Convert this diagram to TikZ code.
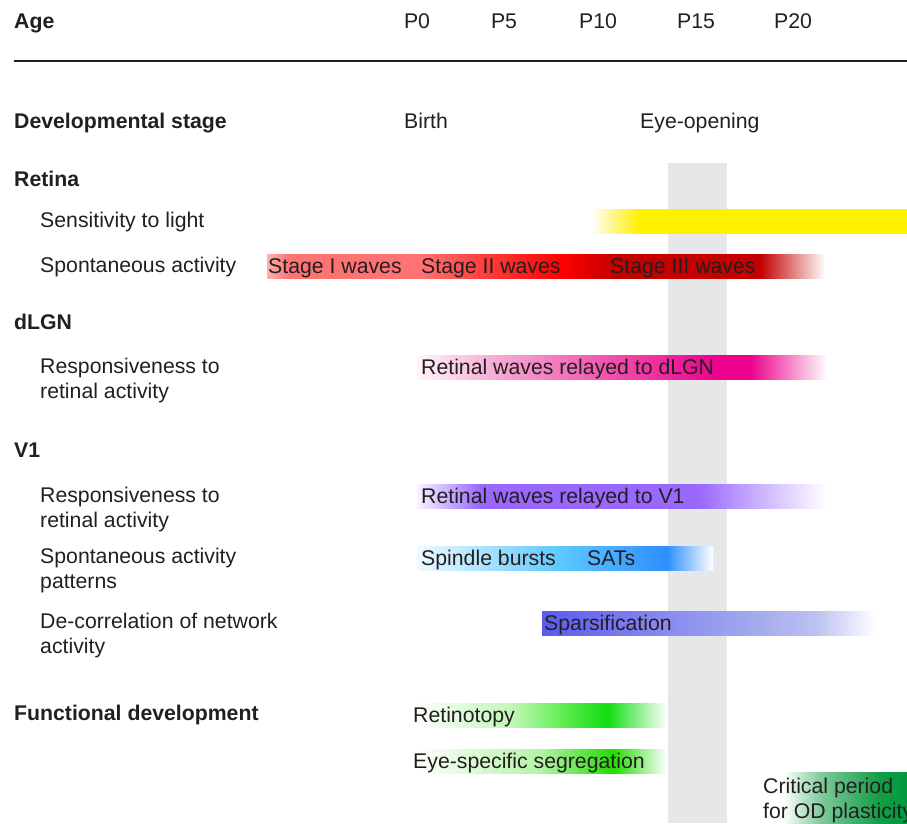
\documentclass[tikz,border=0pt]{standalone}
\usepackage{fontspec}
\setmainfont{Liberation Sans}

\definecolor{ink}{HTML}{231F20}
\definecolor{band}{HTML}{E6E7E8}
\definecolor{lightyellow}{HTML}{FFF000}
\definecolor{paleyellow}{HTML}{FFF79A}
\definecolor{wavepale}{HTML}{FFB0B0}
\definecolor{wavelight}{HTML}{FF7272}
\definecolor{wavered}{HTML}{FF0000}
\definecolor{wavedark}{HTML}{C40000}
\definecolor{pinkpale}{HTML}{FFF6FA}
\definecolor{pinklight}{HTML}{F6A6D1}
\definecolor{magenta}{HTML}{EC008C}
\definecolor{lavender}{HTML}{F8F4FF}
\definecolor{purple}{HTML}{9A68FF}
\definecolor{purplelight}{HTML}{BC9CFF}
\definecolor{skypale}{HTML}{F0F9FF}
\definecolor{sky}{HTML}{5CC8FF}
\definecolor{azure}{HTML}{2F8FFF}
\definecolor{violet}{HTML}{5A5AEF}
\definecolor{violetmid}{HTML}{8A8AF0}
\definecolor{violetlight}{HTML}{A5ACEE}
\definecolor{violetpale}{HTML}{BDC2F0}
\definecolor{greenpale}{HTML}{C0F7B6}
\definecolor{greenmid}{HTML}{66EE55}
\definecolor{greenbright}{HTML}{11DD11}
\definecolor{greenseg}{HTML}{22DD00}
\definecolor{greenlight}{HTML}{B5F3A8}
\definecolor{greensoft}{HTML}{80CB9C}
\definecolor{greendeep}{HTML}{139C45}
\definecolor{greendark}{HTML}{009A3E}

% horizontal shadings, the bar fills the 25bp--75bp part
\pgfdeclarehorizontalshading{lightbar}{100bp}{color(0bp)=(white); color(25bp)=(white);
  color(28.2bp)=(paleyellow); color(32.9bp)=(lightyellow); color(75bp)=(lightyellow); color(100bp)=(lightyellow)}
\pgfdeclarehorizontalshading{wavebar}{100bp}{color(0bp)=(wavepale); color(25bp)=(wavepale);
  color(27bp)=(wavelight); color(38.7bp)=(wavelight); color(51.3bp)=(wavered); color(56.2bp)=(wavedark);
  color(69.2bp)=(wavedark); color(75bp)=(white); color(100bp)=(white)}
\pgfdeclarehorizontalshading{dlgnbar}{100bp}{color(0bp)=(pinkpale); color(25bp)=(pinkpale);
  color(35.1bp)=(pinklight); color(61.6bp)=(magenta); color(65.6bp)=(magenta);
  color(75bp)=(white); color(100bp)=(white)}
\pgfdeclarehorizontalshading{vonebar}{100bp}{color(0bp)=(lavender); color(25bp)=(lavender);
  color(32.7bp)=(purple); color(59.5bp)=(purple); color(64.4bp)=(purplelight);
  color(75bp)=(white); color(100bp)=(white)}
\pgfdeclarehorizontalshading{spindlebar}{100bp}{color(0bp)=(skypale); color(25bp)=(skypale);
  color(49.2bp)=(sky); color(67.2bp)=(azure); color(75bp)=(white); color(100bp)=(white)}
\pgfdeclarehorizontalshading{sparsebar}{100bp}{color(0bp)=(violet); color(25bp)=(violet);
  color(43.8bp)=(violetmid); color(57.7bp)=(violetlight); color(66.3bp)=(violetpale);
  color(75bp)=(white); color(100bp)=(white)}
\pgfdeclarehorizontalshading{retinobar}{100bp}{color(0bp)=(white); color(25bp)=(white);
  color(44.7bp)=(greenpale); color(53.9bp)=(greenmid); color(63.2bp)=(greenbright);
  color(75bp)=(white); color(100bp)=(white)}
\pgfdeclarehorizontalshading{segbar}{100bp}{color(0bp)=(white); color(25bp)=(white);
  color(50bp)=(greenlight); color(64.4bp)=(greenseg); color(75bp)=(white); color(100bp)=(white)}
\pgfdeclarehorizontalshading{criticalbar}{100bp}{color(0bp)=(white); color(25bp)=(white);
  color(40bp)=(greensoft); color(64bp)=(greendeep); color(75bp)=(greendark); color(100bp)=(greendark)}

\newcommand{\chartfont}{\fontsize{21.25}{25}\selectfont}

\begin{document}
\begin{tikzpicture}[
  x=1pt, y=-1pt,
  txt/.style={anchor=base west, inner sep=0pt, text=ink, font=\chartfont, align=left},
  head/.style={txt, font=\chartfont\bfseries},
  agelabel/.style={anchor=base, inner sep=0pt, text=ink, font=\chartfont}
]
\useasboundingbox (0,0) rectangle (907,823);
\clip (0,0) rectangle (907,823);

% eye-opening band
\fill[band] (668,163) rectangle (727,823);

% activity bars
\shade[shading=lightbar] (590,209) rectangle (907,233);
\shade[shading=wavebar] (267,254) rectangle (825,278);
\shade[shading=dlgnbar] (417,355) rectangle (827,379);
\shade[shading=vonebar] (417,484) rectangle (827,508);
\shade[shading=spindlebar] (417,546) rectangle (713,570);
\shade[shading=sparsebar] (542,611) rectangle (875,635);
\shade[shading=retinobar] (413,703) rectangle (667,727);
\shade[shading=segbar] (413,749) rectangle (667,773);
\shade[shading=criticalbar] (783,772) rectangle (907,823);

% age axis
\node[head] (age) at (14,28) {Age};
\foreach \p/\x in {0/417,5/504,10/598,15/696,20/793}
  \node[agelabel] (p\p) at (\x,28) {P\p};
\coordinate (rulel) at (14,61);
\coordinate (ruler) at (907,61);
\draw[ink, line width=2pt] (rulel) -- (ruler);

\node[head] (stage) at (14,128) {Developmental stage};
\node[txt] (birth) at (404,128) {Birth};
\node[txt] (eyeopen) at (640,128) {Eye-opening};

% retina
\node[head] (retina) at (14,186) {Retina};
\node[txt] (light) at (40,227) {Sensitivity to light};
\node[txt] (spont) at (40,272) {Spontaneous activity};
\node[txt] (stagei) at (268,273) {Stage I waves};
\node[txt] (stageii) at (421,273) {Stage II waves};
\node[txt] (stageiii) at (610,273) {Stage III waves};

% dLGN
\node[head] (dlgn) at (14,329) {dLGN};
\node[txt] (dlgnresp) at (40,398) {Responsiveness to\\retinal activity};
\node[txt] (dlgnwaves) at (421,374) {Retinal waves relayed to dLGN};

% V1
\node[head] (vone) at (14,457) {V1};
\node[txt] (voneresp) at (40,527) {Responsiveness to\\retinal activity};
\node[txt] (vonewaves) at (421,503) {Retinal waves relayed to V1};
\node[txt] (vonespont) at (40,588) {Spontaneous activity\\patterns};
\node[txt] (spindle) at (421,565) {Spindle bursts};
\node[txt] (sats) at (587,565) {SATs};
\node[txt] (decorr) at (40,653) {De-correlation of network\\activity};
\node[txt] (sparse) at (544,630) {Sparsification};

% functional development
\node[head] (func) at (14,720) {Functional development};
\node[txt] (retino) at (413,722) {Retinotopy};
\node[txt] (segreg) at (413,768) {Eye-specific segregation};
\node[txt] (critical) at (763,818) {Critical period\\for OD plasticity};
\end{tikzpicture}
\end{document}
